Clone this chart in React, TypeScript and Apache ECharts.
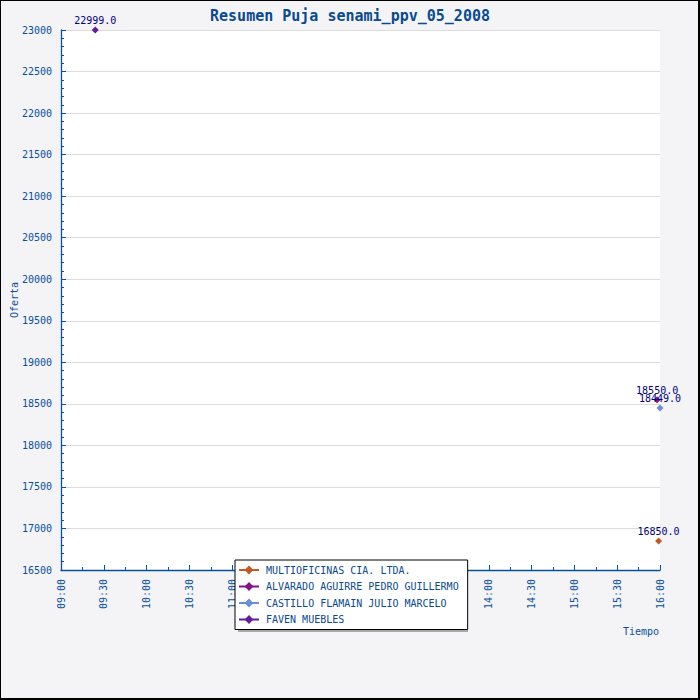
import React, { useEffect, useRef } from "react";
import * as echarts from "echarts";

const seriesNames = [
  "MULTIOFICINAS CIA. LTDA.",
  "ALVARADO AGUIRRE PEDRO GUILLERMO",
  "CASTILLO FLAMAIN JULIO MARCELO",
  "FAVEN MUEBLES",
];
const seriesColors = ["#c25a26", "#84108a", "#6a8edb", "#651c9c"];
const seriesTimes = [["15:59"], ["15:58"], ["16:00"], ["09:24"]];
const seriesValues = [[16850], [18550], [18449], [22999]];

const titleText = "Resumen Puja senami_ppv_05_2008";
const xAxisName = "Tiempo";
const yAxisName = "Oferta";
const xStart = "09:00";
const xEnd = "16:00";
const yMin = 16500;
const yMax = 23000;

const toMin = (t: string) => {
  const [h, m] = t.split(":").map(Number);
  return h * 60 + m;
};
const fmt = (v: number) => {
  const h = Math.floor(v / 60);
  const m = Math.round(v % 60);
  return String(h).padStart(2, "0") + ":" + String(m).padStart(2, "0");
};

const FONT = "DejaVu Sans Mono";
const AXIS = "#0a4f9c";

export default function App() {
  const ref = useRef<HTMLDivElement>(null);
  useEffect(() => {
    document.body.style.margin = "0";
    const chart = echarts.init(ref.current!, undefined, { renderer: "svg" });
    chart.setOption({
      animation: false,
      backgroundColor: "#f4f4f6",
      title: {
        text: titleText,
        left: "center",
        top: 3,
        textStyle: { fontFamily: FONT, fontSize: 15, fontWeight: "bold", color: "#0a4a90" },
      },
      grid: {
        left: 61,
        top: 30,
        right: 40,
        bottom: 130,
        containLabel: false,
        outerBoundsMode: "none",
        show: true,
        backgroundColor: "#ffffff",
        borderWidth: 0,
      },
      legend: {
        orient: "vertical",
        left: 235,
        top: 560,
        padding: [5, 9, 5, 3],
        itemGap: 6.5,
        itemWidth: 20,
        itemHeight: 11,
        backgroundColor: "#ffffff",
        borderColor: "#000000",
        borderWidth: 1,
        textStyle: { fontFamily: FONT, fontSize: 10, color: "#0a4a90", padding: [0, 0, 0, 2] },
        data: seriesNames,
        z: 10,
      },
      xAxis: {
        type: "value",
        min: toMin(xStart),
        max: toMin(xEnd),
        interval: 30,
        splitLine: { show: false },
        axisLine: { lineStyle: { color: AXIS, width: 1.3 } },
        axisTick: { inside: true, length: 5, lineStyle: { color: AXIS } },
        minorTick: { show: true, splitNumber: 2, length: 3, lineStyle: { color: AXIS } },
        axisLabel: {
          rotate: 90,
          margin: 9,
          fontFamily: FONT,
          fontSize: 10,
          color: AXIS,
          formatter: (v: number) => fmt(v),
        },
      },
      yAxis: {
        type: "value",
        min: yMin,
        max: yMax,
        interval: 500,
        name: yAxisName,
        nameLocation: "middle",
        nameGap: 42,
        nameMoveOverlap: false,
        nameTextStyle: { fontFamily: FONT, fontSize: 10, color: AXIS },
        splitLine: { show: true, lineStyle: { color: "#dcdcdc", width: 1 } },
        axisLine: { show: true, lineStyle: { color: AXIS, width: 1.3 } },
        axisTick: { show: true, inside: true, length: 5, lineStyle: { color: AXIS } },
        minorTick: { show: true, splitNumber: 5, length: 3, lineStyle: { color: AXIS } },
        axisLabel: {
          margin: 9,
          fontFamily: FONT,
          fontSize: 10,
          color: AXIS,
          formatter: (v: number) => String(v),
        },
      },
      series: seriesNames.map((name, i) => ({
        name,
        type: "line",
        symbol: "diamond",
        symbolSize: 7,
        showSymbol: true,
        color: seriesColors[i],
        lineStyle: { color: seriesColors[i], width: 1.5 },
        itemStyle: { color: seriesColors[i] },
        label: {
          show: true,
          position: "top",
          distance: 1,
          fontFamily: FONT,
          fontSize: 10,
          color: "#000080",
          formatter: (p: any) => Number(p.value[1]).toFixed(1),
        },
        data: seriesTimes[i].map((t, j) => [toMin(t), seriesValues[i][j]]),
        z: 3,
      })),
      graphic: [
        {
          type: "rect",
          shape: { x: 238, y: 563, width: 230, height: 69 },
          style: { fill: "#a8a8a8" },
          z: 5,
        },
        {
          type: "text",
          x: 659,
          y: 631,
          style: {
            text: xAxisName,
            fontFamily: FONT,
            fontSize: 10,
            fill: AXIS,
            align: "right",
            verticalAlign: "middle",
          },
        },
        {
          type: "rect",
          shape: { x: 0, y: 0, width: 699, height: 699 },
          style: { fill: "none", stroke: "#000000", lineWidth: 2 },
          z: 20,
        },
      ],
    });
    return () => chart.dispose();
  }, []);
  return <div ref={ref} style={{ width: 700, height: 700 }} />;
}
